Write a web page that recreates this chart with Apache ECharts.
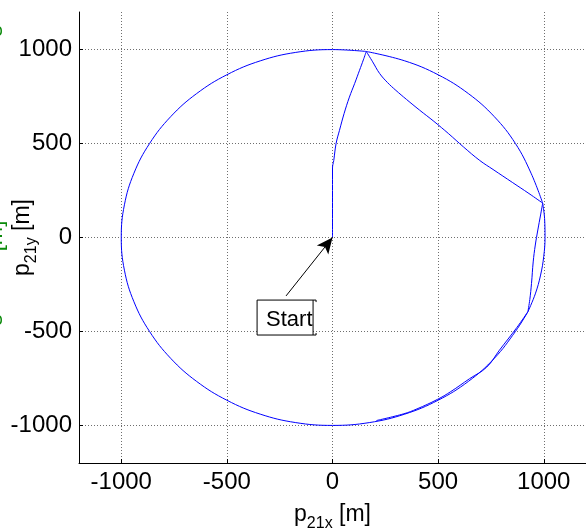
<!DOCTYPE html>
<html>
<head>
<meta charset="utf-8">
<script src="https://cdn.jsdelivr.net/npm/echarts@6/dist/echarts.min.js"></script>
<style>
  html, body { margin: 0; padding: 0; background: #ffffff; }
  #chart { width: 586px; height: 529px; }
</style>
</head>
<body>
<div id="chart"></div>
<script>
// Axis range and tick values (metres), shared by both axes
const axisMin = -1200;
const axisMax = 1200;
const tickValues = [-1000, -500, 0, 500, 1000];

// Relative position p21 = (x, y) in metres, split into consecutive legs
const climbLeg = [[0, 0], [0, 120], [0, 250], [0, 370], [6, 410], [17, 500], [33, 570], [55, 660], [80, 747], [105, 820], [128, 890], [146, 945], [160, 990]];
const chordLeg = [[160, 990], [190, 935], [223, 873], [260, 825], [300, 783], [350, 735], [412, 678], [480, 618], [550, 552], [620, 482], [697, 410], [760, 362], [853, 292], [930, 234], [995, 183]];
const innerLeg = [[995, 183], [985, 120], [972, 40], [960, -40], [950, -130], [942, -245], [934, -330], [925, -395]];
const loopLeg = [[925, -395], [866, -500], [766, -643], [643, -766], [500, -866], [342, -940], [174, -985], [0, -1000], [-174, -985], [-342, -940], [-500, -866], [-643, -766], [-766, -643], [-866, -500], [-940, -342], [-985, -174], [-1000, 0], [-985, 174], [-940, 342], [-866, 500], [-766, 643], [-643, 766], [-500, 866], [-342, 940], [-174, 985], [0, 1000], [160, 990]];
const arcLeg = [[160, 990], [342, 940], [500, 866], [643, 766], [766, 643], [866, 500], [940, 342], [995, 183]];
const outerLeg = [[995, 183], [1004, 100], [1006, 0], [1000, -100], [985, -200], [960, -300], [925, -395]];
const finalLeg = [[925, -395], [872, -480], [790, -600], [730, -690], [648, -752], [560, -820], [496, -862], [400, -912], [338, -938], [208, -974]];

// "Start" annotation: arrow from the label box to the initial position
const startText = 'Start';
const arrowTail = [-220, -311];
const arrowHead = [0, 0];
const boxTopLeft = [-357, -333];
const boxBottomRight = [-92, -519];

const legs = [climbLeg, chordLeg, innerLeg, loopLeg, arcLeg, outerLeg, finalLeg];

const FONT = 'Liberation Sans, Arial, sans-serif';
const nameRich = {
  b: { fontSize: 23, fontFamily: FONT, color: '#000' },
  s: { fontSize: 16, fontFamily: FONT, color: '#000', padding: [18, 0, 0, 0] }
};

function axisCommon() {
  return {
    type: 'value',
    min: axisMin,
    max: axisMax,
    axisLine: { show: true, onZero: false, lineStyle: { color: '#000', width: 1 } },
    axisTick: { show: true, inside: true, length: 4, customValues: tickValues, lineStyle: { color: '#000' } },
    axisLabel: {
      customValues: tickValues, fontSize: 24, fontFamily: FONT, color: '#000',
      formatter: function (v) { return String(v); }
    },
    splitLine: { show: true, lineStyle: { color: '#6e6e6e', width: 1, type: [1, 2] } }
  };
}

const chart = echarts.init(document.getElementById('chart'), null, { renderer: 'canvas' });

const series = legs.map(function (leg, i) {
  const s = {
    type: 'line',
    data: leg,
    showSymbol: false,
    symbol: 'none',
    smooth: 0.4,
    lineStyle: { color: '#0000ff', width: 1 },
    animation: false,
    z: 3
  };
  if (i === 0) {
    s.markLine = {
      silent: true,
      animation: false,
      symbol: ['none', 'arrow'],
      symbolSize: [11, 16],
      label: { show: false },
      lineStyle: { color: '#000', width: 1, type: 'solid' },
      data: [[{ coord: arrowTail }, { coord: arrowHead }]]
    };
  }
  return s;
});

const xAxis = axisCommon();
xAxis.axisLabel.margin = 7;
xAxis.name = '{b|p}{s|21x}{b| [m]}';
xAxis.nameLocation = 'middle';
xAxis.nameGap = 35;
xAxis.nameMoveOverlap = false;
xAxis.nameTextStyle = { rich: nameRich };

const yAxis = axisCommon();
yAxis.axisLabel.margin = 7;
yAxis.name = '{b|p}{s|21y}{b| [m]}';
yAxis.nameLocation = 'middle';
yAxis.nameRotate = 90;
yAxis.nameGap = 39;
yAxis.nameMoveOverlap = false;
yAxis.nameTextStyle = { rich: nameRich };

chart.setOption({
  animation: false,
  backgroundColor: '#ffffff',
  grid: { left: 79, right: 0, top: 12, bottom: 66, containLabel: false, outerBoundsMode: 'none' },
  xAxis: xAxis,
  yAxis: yAxis,
  series: series
});

// Label box for the start point, placed through the grid's coordinate system
const tl = chart.convertToPixel({ gridIndex: 0 }, boxTopLeft);
const br = chart.convertToPixel({ gridIndex: 0 }, boxBottomRight);
const GREEN = '#0a8a0a';
chart.setOption({
  graphic: [
    {
      type: 'rect',
      shape: { x: tl[0], y: tl[1], width: br[0] - tl[0], height: br[1] - tl[1] },
      style: { fill: '#fff', stroke: '#000', lineWidth: 1 },
      z: 10
    },
    {
      type: 'polyline',
      shape: { points: [[br[0], tl[1]], [br[0] + 3, tl[1]], [br[0] + 3, tl[1] + 2]] },
      style: { stroke: '#000', lineWidth: 1, fill: null },
      z: 11
    },
    {
      type: 'polyline',
      shape: { points: [[br[0], br[1]], [br[0] + 3, br[1]], [br[0] + 3, br[1] - 2]] },
      style: { stroke: '#000', lineWidth: 1, fill: null },
      z: 11
    },
    {
      type: 'text',
      x: tl[0] + 9,
      y: (tl[1] + br[1]) / 2 + 2,
      style: { text: startText, font: '22px ' + FONT, fill: '#000', verticalAlign: 'middle', align: 'left' },
      z: 12
    },
    // Neighbouring panel's axis title, clipped at the left edge
    {
      type: 'text', x: 7, y: 31, rotation: Math.PI / 2,
      style: { text: 's', font: '22px ' + FONT, fill: GREEN, align: 'center', verticalAlign: 'bottom' }
    },
    {
      type: 'text', x: 7, y: 236, rotation: Math.PI / 2,
      style: { text: '[m]', font: '22px ' + FONT, fill: GREEN, align: 'center', verticalAlign: 'bottom' }
    },
    {
      type: 'text', x: 7, y: 320, rotation: Math.PI / 2,
      style: { text: 's', font: '22px ' + FONT, fill: GREEN, align: 'center', verticalAlign: 'bottom' }
    }
  ]
});
</script>
</body>
</html>
